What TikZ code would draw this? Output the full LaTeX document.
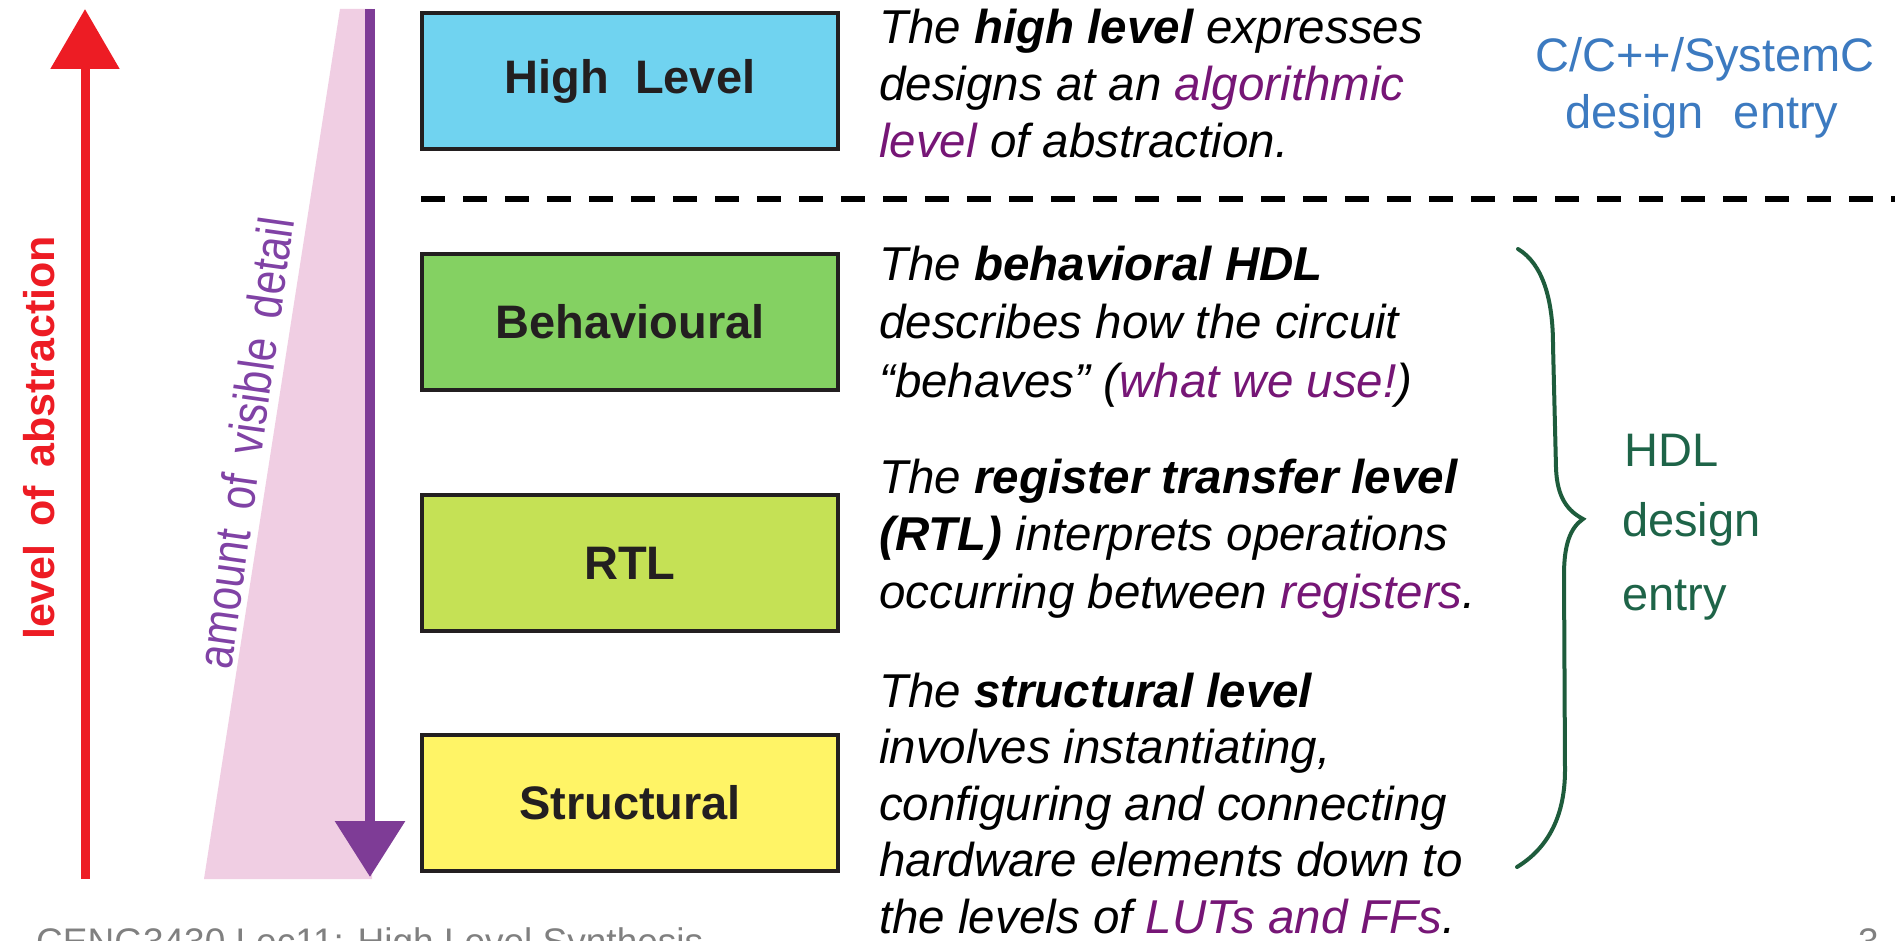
\documentclass[tikz,border=0pt]{standalone}
\usepackage{fontspec}
\setmainfont{Liberation Sans}
\usetikzlibrary{arrows.meta}
\definecolor{redarrow}{RGB}{237,28,36}
\definecolor{purparrow}{RGB}{126,60,150}
\definecolor{pinkfill}{RGB}{240,206,227}
\definecolor{purptext}{RGB}{128,66,165}
\definecolor{hl}{RGB}{118,22,118}
\definecolor{boxline}{RGB}{35,31,32}
\definecolor{cyanbox}{RGB}{112,211,240}
\definecolor{greenbox}{RGB}{132,209,98}
\definecolor{limebox}{RGB}{197,225,85}
\definecolor{yellowbox}{RGB}{255,244,102}
\definecolor{bluetxt}{RGB}{60,122,192}
\definecolor{greentxt}{RGB}{30,100,72}
\definecolor{bracegreen}{RGB}{30,92,60}
\definecolor{footgray}{RGB}{128,128,128}
\tikzset{
  lvlbox/.style={draw=boxline, line width=4pt, minimum width=416pt, minimum height=136pt,
    inner sep=0pt, text=boxline, font=\fontsize{47}{55}\selectfont\bfseries},
  desc/.style={anchor=north west, inner sep=0pt, align=left, text=black},
  bluelab/.style={anchor=base, inner sep=0pt, text=bluetxt, font=\fontsize{47}{57}\selectfont},
  greenlab/.style={anchor=base west, inner sep=0pt, text=greentxt, font=\fontsize{47}{57}\selectfont},
  footer/.style={anchor=base west, inner sep=0pt, text=footgray, font=\fontsize{37}{44}\selectfont}
}
\begin{document}
\begin{tikzpicture}[x=1pt,y=-1pt]
\fill[white] (0,0) rectangle (1895,941);
\useasboundingbox (0,0) rectangle (1895,941);

% pink wedge
\fill[pinkfill] (340,9) -- (372,9) -- (372,879) -- (204,879) -- cycle;

% red arrow
\coordinate (redbot) at (85,879);
\coordinate (redtop) at (85,9);
\draw[redarrow, line width=9pt, -{Triangle[width=67pt,length=60pt]}] (redbot) -- (redtop);

% purple arrow
\coordinate (ptop) at (370,9);
\coordinate (pbot) at (370,877);
\draw[purparrow, line width=10pt, -{Triangle[width=68pt,length=56pt]}] (ptop) -- (pbot);

% rotated labels
\node[anchor=base, rotate=90, inner sep=0pt, text=redarrow,
      font=\fontsize{43}{50}\selectfont\bfseries] (abslab) at (54,438) {level\hspace{6pt} of\hspace{6pt} abstraction};
\node[rotate=82, inner sep=0pt, text=purptext,
      font=\fontsize{42}{50}\selectfont] (detlab) at (245,443)
      {\scalebox{1}[1.2]{amount\hspace{9pt} of\hspace{9pt} visible\hspace{9pt} detail}};

% boxes
\node[lvlbox, fill=cyanbox] (high) at (630,81.5) {High\hspace{26pt}Level};
\node[lvlbox, fill=greenbox] (beh) at (630,322) {Behavioural};
\node[lvlbox, fill=limebox] (rtl) at (630,563) {RTL};
\node[lvlbox, fill=yellowbox] (str) at (630,803) {Structural};

% dashed separator
\coordinate (dashL) at (421,199);
\coordinate (dashR) at (1895,199);
\draw[black, line width=6pt, dash pattern=on 24pt off 18pt] (dashL) -- (dashR);

% descriptions
\node[desc, font=\fontsize{47.5}{57}\selectfont\itshape] (dhigh) at (879,3)
  {\rule{0pt}{40pt}The \textbf{high level} expresses\\designs at an \textcolor{hl}{algorithmic}\\\textcolor{hl}{level} of abstraction.};
\node[desc, font=\fontsize{47.5}{58.5}\selectfont\itshape] (dbeh) at (879,240)
  {\rule{0pt}{40pt}The \textbf{behavioral HDL}\\describes how the circuit\\“behaves” (\textcolor{hl}{what we use!})};
\node[desc, font=\fontsize{47.5}{57.5}\selectfont\itshape] (drtl) at (879,453)
  {\rule{0pt}{40pt}The \textbf{register transfer level}\\\textbf{(RTL)} interprets operations\\occurring between \textcolor{hl}{registers}.};
\node[desc, font=\fontsize{47.5}{56.5}\selectfont\itshape] (dstr) at (879,667)
  {\rule{0pt}{40pt}The \textbf{structural level}\\involves instantiating,\\configuring and connecting\\hardware elements down to\\the levels of \textcolor{hl}{LUTs and FFs}.};

% C/C++ label
\node[bluelab] (cpp1) at (1705,72) {C/C++/SystemC};
\node[bluelab] (cpp2) at (1702,129) {design\hspace{30pt}entry};

% brace
\coordinate (brTop) at (1518,249);
\coordinate (brTip) at (1583,519);
\coordinate (brBot) at (1517,867);
\draw[bracegreen, line width=4pt, line cap=round]
  (brTop) .. controls (1543,264) and (1553,300) .. (1553,345)
  -- (1556,468)
  .. controls (1557,498) and (1568,511) .. (brTip)
  .. controls (1570,528) and (1564,545) .. (1564,575)
  -- (1565,770)
  .. controls (1565,820) and (1545,850) .. (brBot);

% HDL label
\node[greenlab] (hdl1) at (1624,466) {HDL};
\node[greenlab] (hdl2) at (1622,536) {design};
\node[greenlab] (hdl3) at (1622,610) {entry};

% footer (partly cut off)
\node[footer] (foot) at (36,954) {CENG3430 Lec11: High Level Synthesis};
\node[footer] (pagenum) at (1858,954) {3};
\end{tikzpicture}
\end{document}
